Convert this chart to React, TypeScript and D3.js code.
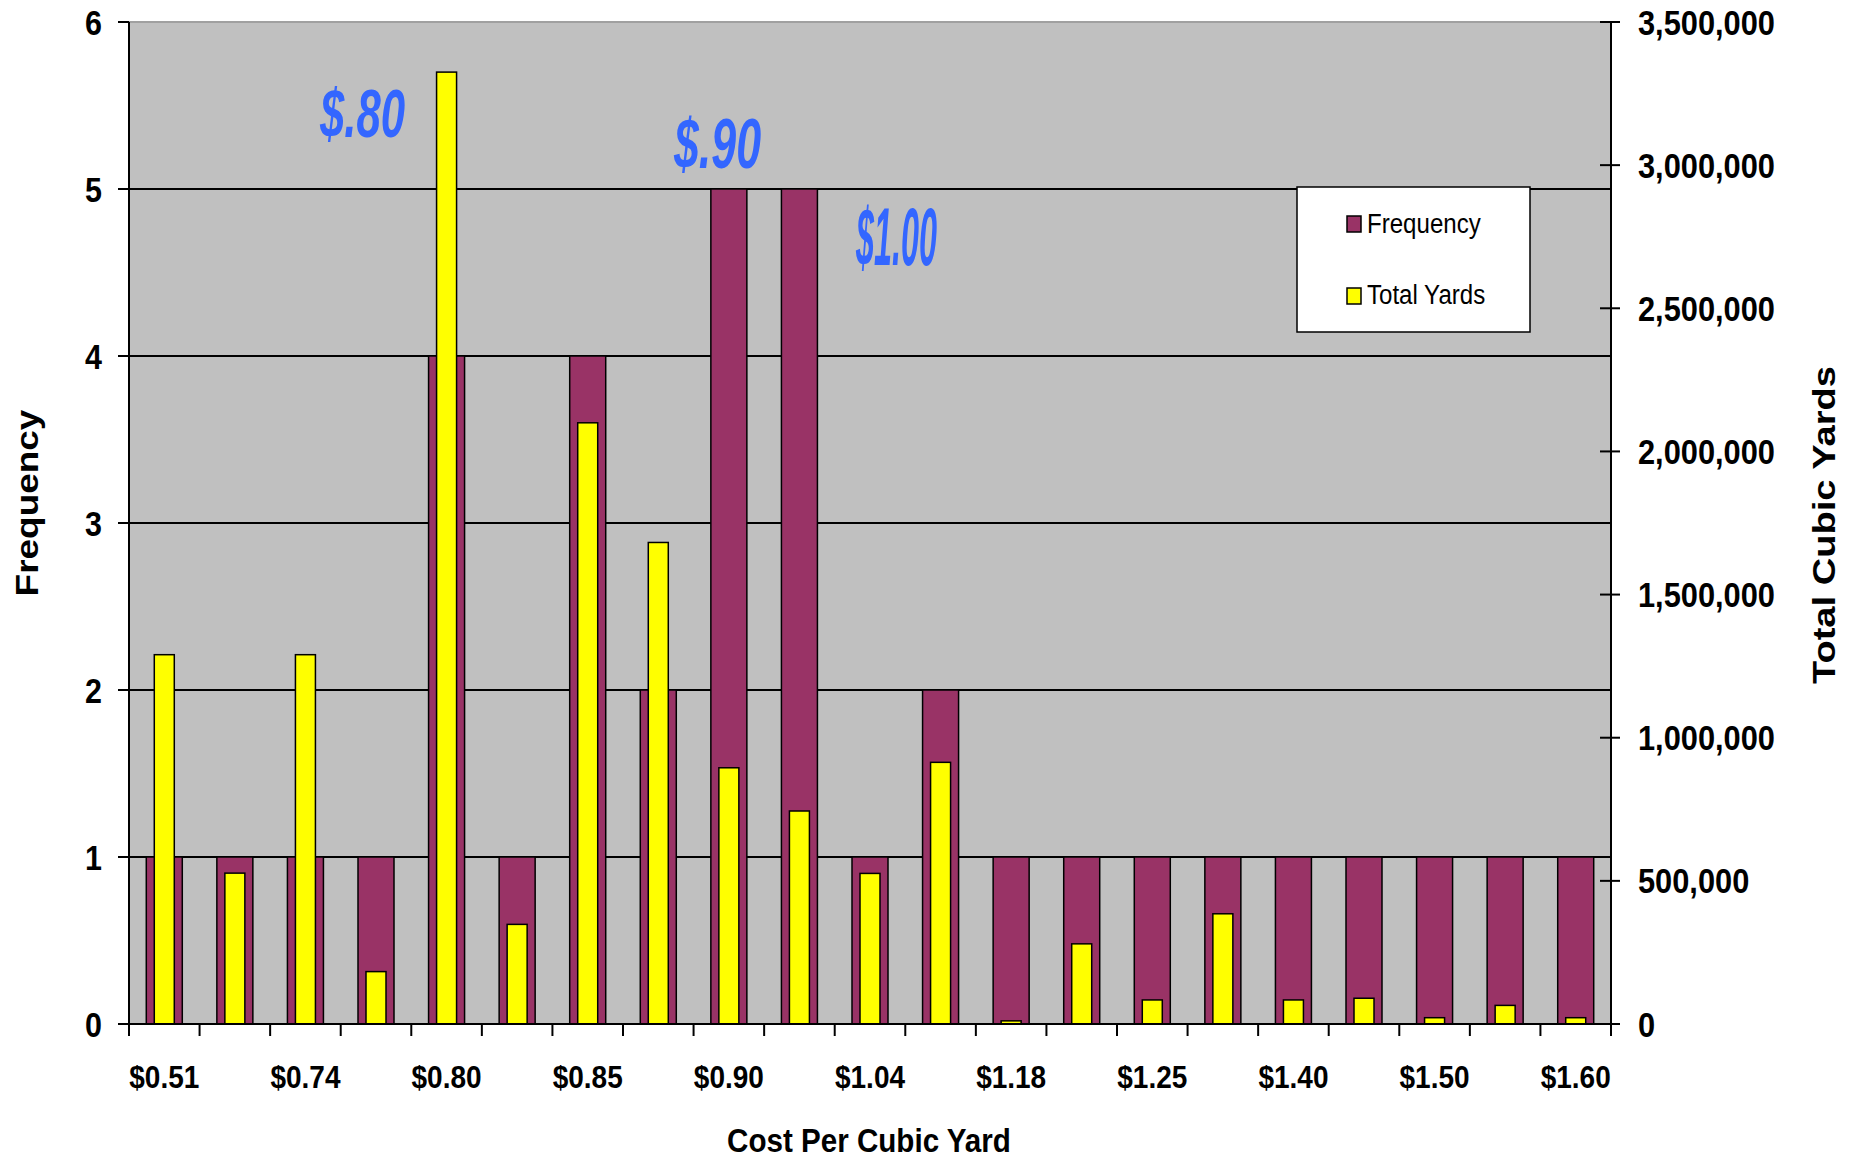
import { useEffect, useRef } from 'react';
import * as d3 from 'd3';

// cost categories (every other one is labelled on the axis)
const categories = [
  '$0.51', '$0.60', '$0.74', '$0.78', '$0.80', '$0.82', '$0.85', '$0.88', '$0.90', '$1.00', '$1.04',
  '$1.10', '$1.18', '$1.20', '$1.25', '$1.30', '$1.40', '$1.45', '$1.50', '$1.55', '$1.60'
];
const frequency = [1, 1, 1, 1, 4, 1, 4, 2, 5, 5, 1, 2, 1, 1, 1, 1, 1, 1, 1, 1, 1];
const totalYards = [
  1290000, 527000, 1290000, 183000, 3325000, 348000, 2100000, 1682000, 895000, 744000, 526000,
  914000, 11000, 280000, 84000, 385000, 84000, 90000, 22000, 65000, 22000
];
const freqTicks = [0, 1, 2, 3, 4, 5, 6];
const yardTicks = [0, 500000, 1000000, 1500000, 2000000, 2500000, 3000000, 3500000];
const callouts = [
  { text: '$.80', x: 320, y: 137, size: 68, len: 85 },
  { text: '$.90', x: 674, y: 168, size: 71, len: 87 },
  { text: '$1.00', x: 856, y: 265, size: 81, len: 81 }
];

const FONT = '"Liberation Sans", Arial, sans-serif';

export default function App() {
  const svgRef = useRef<SVGSVGElement>(null);

  useEffect(() => {
    document.body.style.margin = '0';
    document.body.style.overflow = 'hidden';
    if (!svgRef.current) return;

    const svg = d3.select(svgRef.current);
    svg.selectAll('*').remove();

    const left = 129, right = 1611, top = 22, bottom = 1024;

    const x = d3.scaleBand<string>().domain(categories).range([left, right]).padding(0);
    const yFreq = d3.scaleLinear().domain([0, 6]).range([bottom, top]);
    const yYards = d3.scaleLinear().domain([0, 3500000]).range([bottom, top]);

    // plot area
    svg.append('rect')
      .attr('x', left).attr('y', top)
      .attr('width', right - left).attr('height', bottom - top)
      .attr('fill', '#C0C0C0');

    svg.append('line')
      .attr('x1', left).attr('x2', right)
      .attr('y1', top).attr('y2', top)
      .attr('stroke', '#A0A0A0').attr('stroke-width', 2);

    // grid lines
    svg.append('g').selectAll('line')
      .data(freqTicks.filter(d => d > 0 && d < 6))
      .enter().append('line')
      .attr('x1', left).attr('x2', right)
      .attr('y1', d => yFreq(d)).attr('y2', d => yFreq(d))
      .attr('stroke', '#000').attr('stroke-width', 2);

    const half = x.bandwidth() / 2;

    // frequency bars
    svg.append('g').selectAll('rect')
      .data(frequency)
      .enter().append('rect')
      .attr('x', (d, i) => x(categories[i])! + half - 18)
      .attr('y', d => yFreq(d))
      .attr('width', 36)
      .attr('height', d => bottom - yFreq(d))
      .attr('fill', '#993366')
      .attr('stroke', '#000')
      .attr('stroke-width', 1.5);

    // total yards bars
    svg.append('g').selectAll('rect')
      .data(totalYards)
      .enter().append('rect')
      .attr('x', (d, i) => x(categories[i])! + half - 10)
      .attr('y', d => yYards(d))
      .attr('width', 20)
      .attr('height', d => bottom - yYards(d))
      .attr('fill', '#FFFF00')
      .attr('stroke', '#000')
      .attr('stroke-width', 1.5);

    // axes lines
    svg.append('line')
      .attr('x1', left).attr('x2', left).attr('y1', top).attr('y2', bottom)
      .attr('stroke', '#000').attr('stroke-width', 2);
    svg.append('line')
      .attr('x1', right).attr('x2', right).attr('y1', top).attr('y2', bottom)
      .attr('stroke', '#000').attr('stroke-width', 2);
    svg.append('line')
      .attr('x1', left - 11).attr('x2', right + 9).attr('y1', bottom).attr('y2', bottom)
      .attr('stroke', '#000').attr('stroke-width', 2);

    // x ticks at category boundaries
    const bounds = categories.map(c => x(c)!).concat([right]);
    svg.append('g').selectAll('line')
      .data(bounds)
      .enter().append('line')
      .attr('x1', d => d).attr('x2', d => d)
      .attr('y1', bottom).attr('y2', bottom + 12)
      .attr('stroke', '#000').attr('stroke-width', 2);

    svg.append('g').selectAll('text')
      .data(categories.filter((c, i) => i % 2 === 0))
      .enter().append('text')
      .attr('transform', d => `translate(${x(d)! + half},1088) scale(0.875,1)`)
      .attr('text-anchor', 'middle')
      .style('font-family', FONT)
      .style('font-weight', 'bold')
      .style('font-size', '32px')
      .text(d => d);

    // left axis
    svg.append('g').selectAll('line')
      .data(freqTicks)
      .enter().append('line')
      .attr('x1', left - 11).attr('x2', left)
      .attr('y1', d => yFreq(d)).attr('y2', d => yFreq(d))
      .attr('stroke', '#000').attr('stroke-width', 2);
    svg.append('g').selectAll('text')
      .data(freqTicks)
      .enter().append('text')
      .attr('transform', d => `translate(102,${yFreq(d) + 12.5}) scale(0.87,1)`)
      .attr('text-anchor', 'end')
      .style('font-family', FONT)
      .style('font-weight', 'bold')
      .style('font-size', '35px')
      .text(d => d);

    // right axis
    const fmt = d3.format(',');
    svg.append('g').selectAll('line')
      .data(yardTicks)
      .enter().append('line')
      .attr('x1', right - 11).attr('x2', right + 9)
      .attr('y1', d => yYards(d)).attr('y2', d => yYards(d))
      .attr('stroke', '#000').attr('stroke-width', 2);
    svg.append('g').selectAll('text')
      .data(yardTicks)
      .enter().append('text')
      .attr('transform', d => `translate(1638,${yYards(d) + 12.5}) scale(0.88,1)`)
      .style('font-family', FONT)
      .style('font-weight', 'bold')
      .style('font-size', '35px')
      .text(d => fmt(d));

    // axis titles
    svg.append('text')
      .attr('transform', 'translate(38,503) rotate(-90) scale(1.155,1)')
      .attr('text-anchor', 'middle')
      .style('font-family', FONT)
      .style('font-weight', 'bold')
      .style('font-size', '32px')
      .text('Frequency');
    svg.append('text')
      .attr('transform', 'translate(1835,525) rotate(-90) scale(1.19,1)')
      .attr('text-anchor', 'middle')
      .style('font-family', FONT)
      .style('font-weight', 'bold')
      .style('font-size', '32px')
      .text('Total Cubic Yards');
    svg.append('text')
      .attr('transform', 'translate(869,1152) scale(0.87,1)')
      .attr('text-anchor', 'middle')
      .style('font-family', FONT)
      .style('font-weight', 'bold')
      .style('font-size', '34px')
      .text('Cost Per Cubic Yard');

    // callouts
    svg.append('g').selectAll('text')
      .data(callouts)
      .enter().append('text')
      .attr('x', d => d.x)
      .attr('y', d => d.y)
      .attr('textLength', d => d.len)
      .attr('lengthAdjust', 'spacingAndGlyphs')
      .attr('fill', '#3366FF')
      .style('font-family', FONT)
      .style('font-weight', 'bold')
      .style('font-style', 'italic')
      .style('font-size', d => `${d.size}px`)
      .text(d => d.text);

    // legend
    const legend = svg.append('g');
    legend.append('rect')
      .attr('x', 1297).attr('y', 187).attr('width', 233).attr('height', 145)
      .attr('fill', '#fff').attr('stroke', '#000').attr('stroke-width', 1.5);
    const items = [
      { label: 'Frequency', color: '#993366', y: 216, base: 233 },
      { label: 'Total Yards', color: '#FFFF00', y: 288, base: 304 }
    ];
    items.forEach(item => {
      legend.append('rect')
        .attr('x', 1347).attr('y', item.y).attr('width', 14).attr('height', 16)
        .attr('fill', item.color).attr('stroke', '#000').attr('stroke-width', 1.5);
      legend.append('text')
        .attr('transform', `translate(1367,${item.base}) scale(0.86,1)`)
        .style('font-family', FONT)
        .style('font-size', '28px')
        .text(item.label);
    });
  }, []);

  return <svg ref={svgRef} width={1857} height={1159} style={{ display: 'block', background: '#fff' }} />;
}
